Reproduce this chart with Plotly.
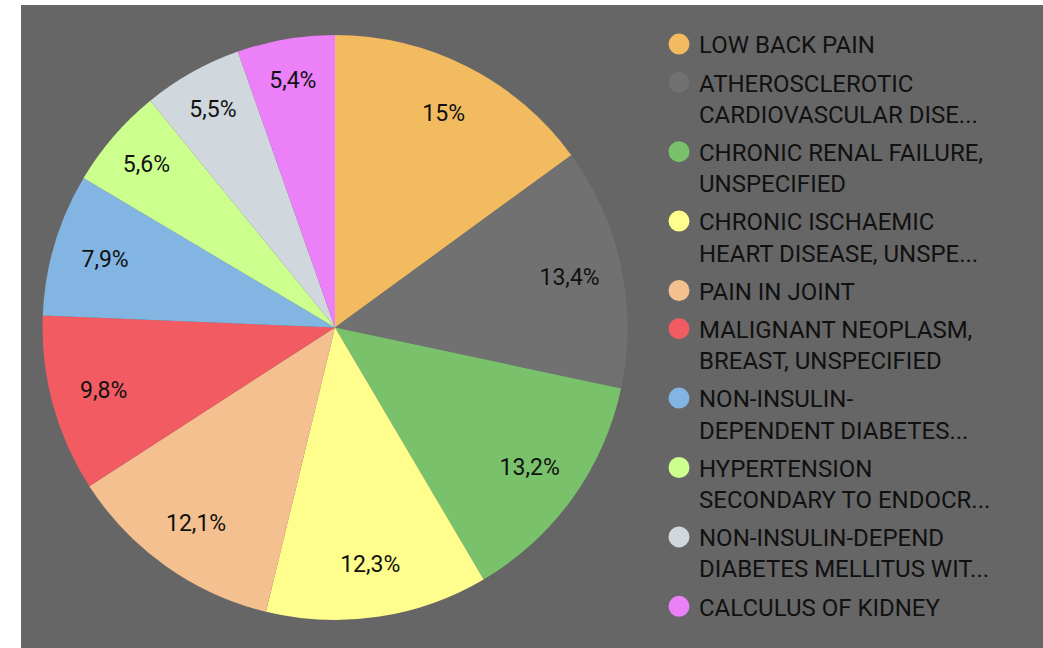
import plotly.graph_objects as go

labels = [
    "LOW BACK PAIN",
    "ATHEROSCLEROTIC<br>CARDIOVASCULAR DISE...",
    "CHRONIC RENAL FAILURE,<br>UNSPECIFIED",
    "CHRONIC ISCHAEMIC<br>HEART DISEASE, UNSPE...",
    "PAIN IN JOINT",
    "MALIGNANT NEOPLASM,<br>BREAST, UNSPECIFIED",
    "NON-INSULIN-<br>DEPENDENT DIABETES...",
    "HYPERTENSION<br>SECONDARY TO ENDOCR...",
    "NON-INSULIN-DEPEND<br>DIABETES MELLITUS WIT...",
    "CALCULUS OF KIDNEY",
]
values = [15, 13.4, 13.2, 12.3, 12.1, 9.8, 7.9, 5.6, 5.5, 5.4]
colors = ["#F3BB60", "#717171", "#79C26B", "#FFFD8B", "#F5C08F",
          "#F15B61", "#83B5E3", "#CCFF8D", "#D0D8DE", "#EB80F9"]

FONT = "Roboto"
W, H = 1043, 648
ML, MT = 21, 5
PW, PH = W - ML, H - MT

pie_domain = dict(x=[(42 - ML) / PW, (628 - ML) / PW],
                  y=[1 - (620 - MT) / PH, 1 - (35 - MT) / PH])

fig = go.Figure()

# coloured slices
fig.add_trace(go.Pie(
    labels=labels,
    values=values,
    marker=dict(colors=colors, line=dict(width=0)),
    sort=False,
    direction="clockwise",
    rotation=0,
    textinfo="none",
    showlegend=False,
    hoverinfo="label+value",
    domain=pie_domain,
))

# transparent ring carrying the value labels near the outer edge
fig.add_trace(go.Pie(
    labels=labels,
    values=values,
    marker=dict(colors=["rgba(0,0,0,0)"] * len(values), line=dict(width=0)),
    sort=False,
    direction="clockwise",
    rotation=0,
    hole=0.64,
    texttemplate="%{value}%",
    textposition="inside",
    insidetextorientation="horizontal",
    textfont=dict(family=FONT, size=23, color="#111111"),
    showlegend=False,
    hoverinfo="skip",
    domain=pie_domain,
))

for i, (lab, col) in enumerate(zip(labels, colors)):
    fig.add_trace(go.Scatter(
        x=[None], y=[None], mode="markers", name=lab,
        legendgroup=f"g{i}",
        marker=dict(color=col, size=16, symbol="circle",
                    line=dict(color=col, width=5)),
    ))

fig.update_layout(
    width=W, height=H,
    margin=dict(l=ML, r=0, t=MT, b=0),
    paper_bgcolor="white",
    plot_bgcolor="rgba(0,0,0,0)",
    separators=", ",
    font=dict(family=FONT, color="#111111"),
    xaxis=dict(visible=False),
    yaxis=dict(visible=False),
    shapes=[dict(type="rect", xref="paper", yref="paper", x0=0, x1=1, y0=0, y1=1,
                 fillcolor="#666666", line=dict(width=0), layer="below")],
    legend=dict(
        x=(659 - ML) / PW, xanchor="left",
        y=1 - (22 - MT) / PH, yanchor="top",
        font=dict(family=FONT, size=24, color="#111111"),
        bgcolor="rgba(0,0,0,0)",
        valign="top",
        tracegroupgap=4,
        itemclick=False, itemdoubleclick=False,
    ),
)

fig.write_html(
    "out.html",
    config={"displayModeBar": False},
    post_script="document.body.style.margin='0';document.body.style.overflow='hidden';",
)
